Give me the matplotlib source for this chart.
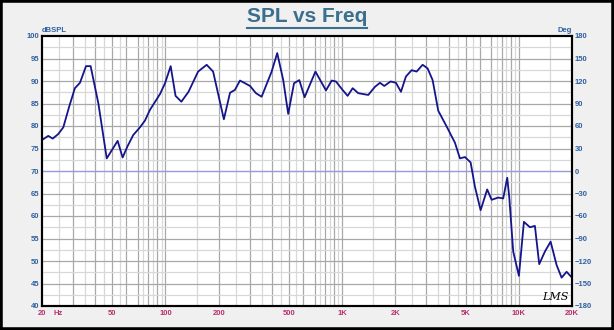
import numpy as np
import matplotlib
matplotlib.use('Agg')
import matplotlib.pyplot as plt
from matplotlib.lines import Line2D
from matplotlib.patches import Rectangle

plt.rcParams['font.family'] = ['Liberation Sans', 'DejaVu Sans']

# SPL curve
freq = [20.2, 21.7, 23.0, 24.7, 26.4, 28.5, 30.7, 32.8, 35.5, 37.7,
        41.7, 46.5, 53.6, 57.2, 60.8, 65.7, 71.7, 76.5, 81.7, 93.1,
        99.4, 107, 114, 123, 135, 153, 171, 186, 214, 232,
        247, 264, 301, 325, 350, 399, 429, 464, 495, 534,
        572, 613, 706, 810, 872, 922, 1006, 1074, 1147, 1233,
        1405, 1533, 1637, 1731, 1881, 2016, 2152, 2296, 2474, 2640,
        2854, 3046, 3252, 3498, 3902, 4348, 4642, 4954, 5336, 5644,
        6078, 6622, 7016, 7644, 8160, 8598, 8824, 9296, 10012, 10686,
        11558, 12332, 13046, 14050, 15136, 16362, 17466, 18640, 19896]
spl = [77.0, 77.8, 77.2, 78.2, 79.7, 84.3, 88.4, 89.6, 93.3, 93.3,
       85.0, 72.8, 76.7, 73.0, 75.4, 78.0, 79.7, 81.2, 83.6, 87.1,
       89.5, 93.3, 86.7, 85.4, 87.6, 92.1, 93.6, 92.1, 81.5, 87.4,
       88.0, 90.1, 88.9, 87.3, 86.5, 92.1, 96.2, 90.2, 82.7, 89.5,
       90.2, 86.4, 92.1, 87.9, 90.1, 89.9, 88.0, 86.7, 88.4, 87.3,
       86.9, 88.7, 89.6, 88.9, 89.9, 89.6, 87.6, 91.0, 92.4, 92.1,
       93.6, 92.8, 90.2, 83.4, 79.9, 76.3, 72.8, 73.1, 71.9, 66.5,
       61.3, 65.9, 63.6, 64.1, 63.9, 68.5, 64.3, 52.1, 46.7, 58.7,
       57.5, 57.8, 49.3, 52.1, 54.3, 49.1, 46.3, 47.6, 46.4]

x_ticks = [20, 50, 100, 200, 500, 1000, 2000, 5000, 10000, 20000]
x_labels = ['20', '50', '100', '200', '500', '1K', '2K', '5K', '10K', '20K']
db_ticks = list(range(40, 101, 5))
deg_ticks = list(range(-180, 181, 30))

fig = plt.figure(figsize=(6.14, 3.30), dpi=100)
fig.patch.set_facecolor('#f0f0f0')
fig.add_artist(Rectangle((0, 0), 1, 1, transform=fig.transFigure,
                         fill=False, edgecolor='black', linewidth=4))

ax = fig.add_axes([42/614, 1-306/330, 530/614, 270/330])
ax.set_xscale('log')
ax.set_xlim(20, 20000)
ax.set_ylim(40, 100)
ax.set_facecolor('white')

# grid
for dec in [10, 100, 1000, 10000]:
    for m in [1.5, 2.5, 3.5, 4.5, 5.5, 7.5, 8.5, 9.5]:
        f = m * dec
        if 20 < f < 20000:
            ax.axvline(f, color='#d8d8d8', lw=0.9, zorder=0)
    for m in range(1, 10):
        f = m * dec
        if 20 < f < 20000:
            ax.axvline(f, color='#a8a8a8', lw=0.9, zorder=0)
for v in np.arange(42.5, 100, 5):
    ax.axhline(v, color='#d8d8d8', lw=0.9, zorder=0)
for v in db_ticks[1:-1]:
    ax.axhline(v, color='#a8a8a8', lw=0.9, zorder=0)
ax.axhline(70, color='#9a9ae0', lw=0.9, zorder=1)

ax.plot(freq, spl, color='#14148c', lw=1.3, zorder=3)

ax.set_xticks(x_ticks)
ax.set_xticklabels(x_labels)
ax.xaxis.set_minor_locator(matplotlib.ticker.NullLocator())
ax.set_yticks(db_ticks)
ax.tick_params(axis='x', length=0, pad=3, labelsize=5.5, labelcolor='#b8306e')
ax.tick_params(axis='y', length=0, pad=2, labelsize=5.5, labelcolor='#3060a0')
for lab in ax.get_xticklabels() + ax.get_yticklabels():
    lab.set_fontweight('bold')
for s in ax.spines.values():
    s.set_linewidth(1.5)
    s.set_color('black')

ax2 = ax.twinx()
ax2.set_ylim(-180, 180)
ax2.set_yticks(deg_ticks)
ax2.tick_params(axis='y', length=0, pad=2, labelsize=5.5, labelcolor='#3060a0')
for lab in ax2.get_yticklabels():
    lab.set_fontweight('bold')
for s in ax2.spines.values():
    s.set_linewidth(1.5)

fig.canvas.draw()
lab20 = ax.get_xticklabels()[0].get_window_extent()
fig.text(53/614, (lab20.y0 + lab20.y1) / 2 / 330, 'Hz', fontsize=5.5,
         fontweight='bold', color='#b8306e', va='center', ha='left')
fig.text(42/614, 1-31/330, 'dBSPL', fontsize=5.5, fontweight='bold',
         color='#3060a0', va='center', ha='left')
fig.text(572/614, 1-31/330, 'Deg', fontsize=5.5, fontweight='bold',
         color='#3060a0', va='center', ha='right')
fig.text(555/614, 1-297/330, 'LMS', fontsize=8, style='italic',
         family='DejaVu Serif', color='black', va='center', ha='center')

t = fig.text(0.5, 1-17/330, 'SPL vs Freq', fontsize=15, fontweight='bold',
             color='#3b6f8e', ha='center', va='center')
fig.canvas.draw()
bb = t.get_window_extent()
fig.add_artist(Line2D([bb.x0/614, bb.x1/614], [1-28/330, 1-28/330],
                      transform=fig.transFigure, color='#3b6f8e', lw=1.5))

fig.savefig('out.png', dpi=100, facecolor=fig.get_facecolor())
